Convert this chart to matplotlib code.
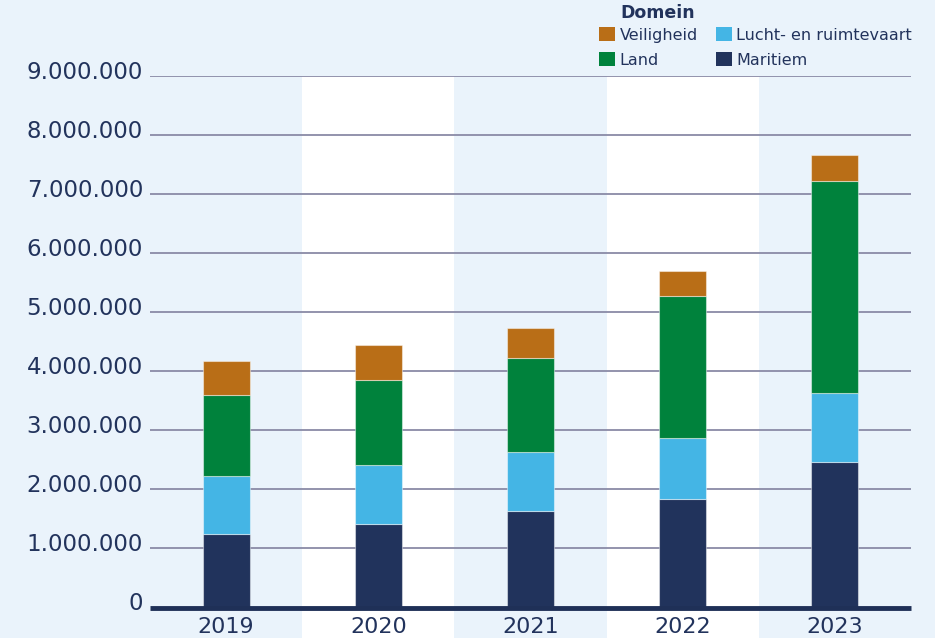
import numpy as np
import matplotlib
matplotlib.use("Agg")
import matplotlib.pyplot as plt
import matplotlib.transforms as mtransforms
from matplotlib.patches import Patch

years = ["2019", "2020", "2021", "2022", "2023"]
maritiem = [1250000, 1420000, 1640000, 1840000, 2470000]
lucht = [970000, 1000000, 1000000, 1030000, 1160000]
land = [1380000, 1440000, 1590000, 2410000, 3590000]
veiligheid = [580000, 580000, 500000, 410000, 450000]

series = [
    ("Maritiem", maritiem, "#21335c"),
    ("Lucht- en ruimtevaart", lucht, "#44b5e5"),
    ("Land", land, "#00823c"),
    ("Veiligheid", veiligheid, "#b96e17"),
]

navy = "#22335c"
bg = "#eaf3fb"

fig = plt.figure(figsize=(9.35, 6.38), dpi=100, facecolor=bg)
ax = fig.add_axes([150 / 935, 30.5 / 638, 761 / 935, 531.5 / 638])
ax.set_facecolor(bg)

x = np.arange(len(years))

# white bands behind every second year
for i in x:
    if i % 2 == 1:
        ax.axvspan(i - 0.5, i + 0.5, ymin=-0.06, ymax=1, color="white",
                   zorder=0, clip_on=False, lw=0)

# gridlines
for v in range(1, 10):
    ax.axhline(v * 1000000, color="#8a8aa6", lw=1.3, zorder=1)

bottom = np.zeros(len(years))
handles = {}
for name, vals, col in series:
    ax.bar(x, vals, 0.31, bottom=bottom, color=col,
           edgecolor=(1, 1, 1, 0.45), linewidth=0.8, zorder=2)
    bottom += np.array(vals)
    handles[name] = Patch(facecolor=col, edgecolor="none")

ax.axhline(0, color="#1f3057", lw=3.5, zorder=3, clip_on=False,
           solid_capstyle="butt")

ax.set_xlim(-0.5, len(years) - 0.5)
ax.set_ylim(0, 9000000)
for s in ax.spines.values():
    s.set_visible(False)

ticks = np.arange(0, 9000001, 1000000)
ax.set_yticks(ticks)
ax.set_yticklabels([f"{int(t):,}".replace(",", ".") for t in ticks],
                   fontsize=16.5, color=navy)
ax.tick_params(axis="y", length=0, pad=5)
offset = mtransforms.ScaledTranslation(0, 6 / 100, fig.dpi_scale_trans)
for lab in ax.get_yticklabels():
    lab.set_transform(lab.get_transform() + offset)

ax.set_xticks(x)
ax.set_xticklabels(years, fontsize=16, color=navy)
ax.tick_params(axis="x", length=0, pad=7)

order = ["Veiligheid", "Land", "Lucht- en ruimtevaart", "Maritiem"]
fig.legend([handles[n] for n in order], order, ncol=2, frameon=False,
           loc="upper left", bbox_to_anchor=(599 / 935, 1 - 27 / 638),
           borderpad=0, borderaxespad=0, fontsize=11.5, labelcolor=navy,
           handlelength=1.0, handleheight=1.0, handletextpad=0.3,
           columnspacing=1.1, labelspacing=0.6)
fig.text(620 / 935, 1 - 4 / 638, "Domein", fontsize=12.5, fontweight="bold",
         color=navy, ha="left", va="top")

fig.savefig("out.png", dpi=100, facecolor=bg)
